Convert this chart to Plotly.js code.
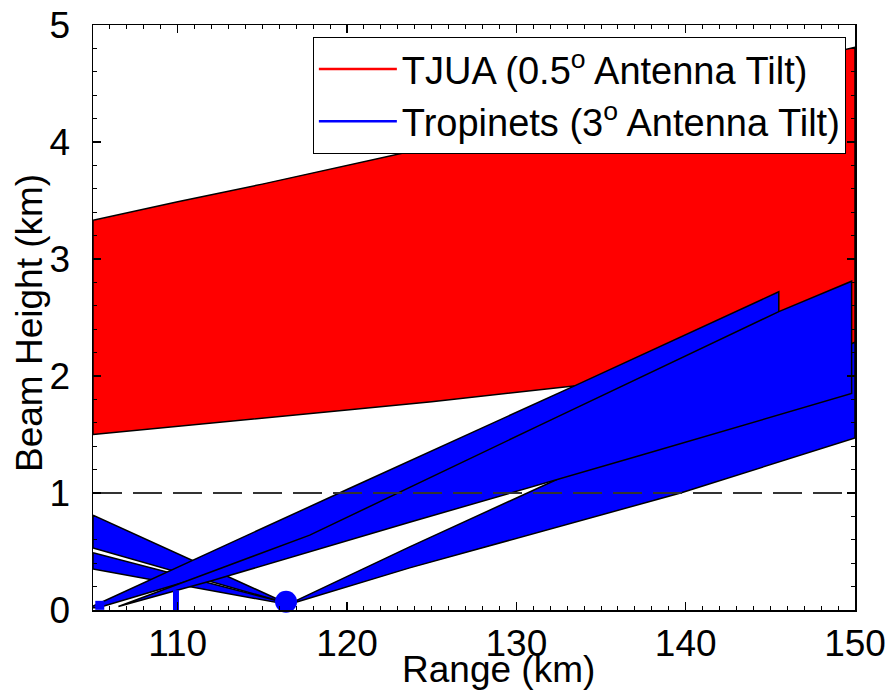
<!DOCTYPE html>
<html>
<head>
<meta charset="utf-8">
<script src="https://cdn.plot.ly/plotly-3.0.1.min.js"></script>
<style>html,body{margin:0;padding:0;background:#fff;}</style>
</head>
<body>
<div id="chart" style="width:889px;height:697px;"></div>
<script>
// ---- Data ----
// TJUA beam (0.5 deg tilt): range (km), top and bottom of beam (km)
const tjuaRange  = [105, 110, 115, 120, 125, 130, 135, 140, 145, 150];
const tjuaTop    = [3.33, 3.49, 3.64, 3.80, 3.96, 4.13, 4.30, 4.47, 4.64, 4.81];
const tjuaBottom = [1.50, 1.57, 1.64, 1.71, 1.78, 1.86, 1.94, 2.02, 2.11, 2.20];

// Tropinets beams (3 deg tilt)
// upper beam descending toward the radar at 116.4 km
const beamL1Range  = [105, 116.4];
const beamL1Top    = [0.81, 0.06];
const beamL1Bottom = [0.53, 0.06];
// lower descending beam
const beamL2Range  = [105, 116.4];
const beamL2Top    = [0.49, 0.06];
const beamL2Bottom = [0.35, 0.05];
// beam rising from ~105 km, ends at 145.5 km
const beamR1TopRange    = [104.8, 108.4, 120, 133.5, 145.5];
const beamR1Top         = [0.02, 0.26, 1.03, 1.92, 2.72];
const beamR1BottomRange = [105.3, 120, 145.5];
const beamR1Bottom      = [0.02, 0.65, 1.90];
// beam rising from the radar at 116.4 km
const beamR3Range  = [116.4, 123.7, 139.7, 150];
const beamR3Top    = [0.04, 0.54, 1.60, 2.29];
const beamR3Bottom = [0.04, 0.36, 1.00, 1.47];
// beam ending at 149.8 km
const beamR2TopRange    = [106.5, 117.8, 131.4, 145.5, 149.8];
const beamR2Top         = [0.03, 0.64, 1.58, 2.55, 2.81];
const beamR2BottomRange = [106.5, 112, 123.7, 137.3, 149.8];
const beamR2Bottom      = [0.03, 0.25, 0.75, 1.32, 1.85];

// radar site markers
const siteSquare = {x: [105.4], y: [0.04]};
const siteBar    = {x: [109.9, 109.9], y: [0, 0.17]};
const siteCircle = {x: [116.4], y: [0.07]};

const refLevel = 1;           // dashed reference height (km)
const xRange = [105, 150];
const yRange = [0, 5];

const xTitle = 'Range (km)';
const yTitle = 'Beam Height (km)';
const legendNames = ['TJUA (0.5<sup>o</sup> Antenna Tilt)', 'Tropinets (3<sup>o</sup> Antenna Tilt)'];

// ---- helpers ----
function band2(rTop, top, rBot, bot, fill) {
  const x = rTop.concat(rBot.slice().reverse());
  const y = top.concat(bot.slice().reverse());
  x.push(rTop[0]); y.push(top[0]);
  return {type: 'scatter', mode: 'lines', x: x, y: y, fill: 'toself',
          fillcolor: fill, line: {color: '#000', width: 1.5},
          showlegend: false, hoverinfo: 'skip'};
}
function band(r, top, bot, fill) { return band2(r, top, r, bot, fill); }
const RED = '#ff0000', BLUE = '#0000ff';
const FONT = 'Arial, "Liberation Sans", sans-serif';
const FS = 37;

const traces = [
  band(tjuaRange, tjuaTop, tjuaBottom, RED),
  band(beamL1Range, beamL1Top, beamL1Bottom, BLUE),
  band(beamL2Range, beamL2Top, beamL2Bottom, BLUE),
  band(beamR3Range, beamR3Top, beamR3Bottom, BLUE),
  band2(beamR1TopRange, beamR1Top, beamR1BottomRange, beamR1Bottom, BLUE),
  band2(beamR2TopRange, beamR2Top, beamR2BottomRange, beamR2Bottom, BLUE),
  {type: 'scatter', mode: 'lines', x: xRange, y: [refLevel, refLevel],
   line: {color: '#333', width: 2, dash: '29px,11px'}, showlegend: false, hoverinfo: 'skip'},
  {type: 'scatter', mode: 'markers', x: siteSquare.x, y: siteSquare.y,
   marker: {symbol: 'square', size: 9, color: BLUE}, showlegend: false, cliponaxis: false},
  {type: 'scatter', mode: 'lines', x: siteBar.x, y: siteBar.y,
   line: {color: BLUE, width: 6}, showlegend: false, cliponaxis: false},
  {type: 'scatter', mode: 'markers', x: siteCircle.x, y: siteCircle.y,
   marker: {symbol: 'circle', size: 22, color: BLUE}, showlegend: false, cliponaxis: false},
  {type: 'scatter', mode: 'lines', x: [null], y: [null], name: legendNames[0],
   line: {color: RED, width: 2.5}},
  {type: 'scatter', mode: 'lines', x: [null], y: [null], name: legendNames[1],
   line: {color: BLUE, width: 2.5}}
];

const axisCommon = {
  showline: true, linecolor: '#000', linewidth: 1.5, mirror: 'ticks',
  ticks: 'inside', ticklen: 8, tickwidth: 1.2, tickcolor: '#000',
  showgrid: false, zeroline: false,
  tickfont: {family: FONT, size: FS, color: '#000'}
};

const layout = {
  width: 889, height: 697,
  margin: {l: 93, r: 34, t: 25, b: 87},
  paper_bgcolor: '#fff', plot_bgcolor: '#fff',
  font: {family: FONT, color: '#000'},
  xaxis: Object.assign({}, axisCommon, {
    range: xRange, tick0: 100, dtick: 10,
    minor: {dtick: 1, ticks: 'inside', ticklen: 4, tickcolor: '#000', tickwidth: 1},
    ticklabelstandoff: 0
  }),
  yaxis: Object.assign({}, axisCommon, {
    range: yRange, tick0: 0, dtick: 1,
    minor: {dtick: 0.2, ticks: 'inside', ticklen: 4, tickcolor: '#000', tickwidth: 1},
    ticklabelstandoff: 14
  }),
  annotations: [{
    text: xTitle, xref: 'paper', yref: 'paper', x: 0.5315, y: -0.101,
    xanchor: 'center', yanchor: 'middle', showarrow: false,
    font: {family: FONT, size: 37, color: '#000'}
  }, {
    text: yTitle, xref: 'paper', yref: 'paper', x: -0.0827, y: 0.4906,
    xanchor: 'center', yanchor: 'middle', showarrow: false, textangle: -90,
    font: {family: FONT, size: 37, color: '#000'}
  }],
  legend: {
    x: 0.988, xanchor: 'right', y: 0.98, yanchor: 'top',
    bgcolor: '#fff', bordercolor: '#000', borderwidth: 1,
    font: {family: FONT, size: 38, color: '#000'},
    itemwidth: 78, tracegroupgap: 0
  },
  showlegend: true
};

Plotly.newPlot('chart', traces, layout, {displayModeBar: false, staticPlot: true});
</script>
</body>
</html>
